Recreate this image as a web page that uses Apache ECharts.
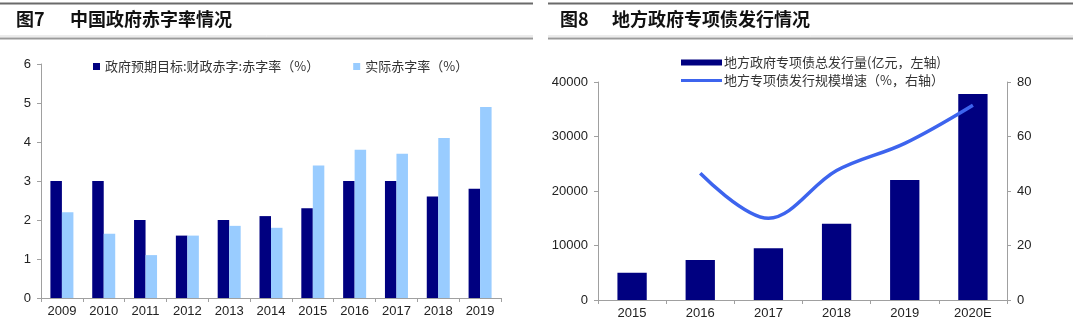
<!DOCTYPE html>
<html><head><meta charset="utf-8">
<script src="https://cdn.jsdelivr.net/npm/echarts@6/dist/echarts.min.js"></script>
<style>html,body{margin:0;padding:0;background:#fff}#c{width:1080px;height:324px}</style>
</head><body><div id="c"></div>
<script>
var years1 = ['2009','2010','2011','2012','2013','2014','2015','2016','2017','2018','2019'];
var targetDeficit = [3, 3, 2, 1.6, 2, 2.1, 2.3, 3, 3, 2.6, 2.8];
var actualDeficit = [2.2, 1.65, 1.1, 1.6, 1.85, 1.8, 3.4, 3.8, 3.7, 4.1, 4.9];
var years2 = ['2015','2016','2017','2018','2019','2020E'];
var bondIssue = [5000, 7350, 9500, 14000, 22000, 37800];
var bondGrowth = [null, 46.5, 30, 47.5, 57.5, 71.5];
var name1 = '政府预期目标:财政赤字:赤字率（%）';
var name2 = '实际赤字率（%）';
var name3 = '地方政府专项债总发行量(亿元，左轴)';
var name4 = '地方专项债发行规模增速（%，右轴）';

var chart = echarts.init(document.getElementById('c'));
var axisLine = {lineStyle:{color:'#a0a0a0', width:1}};
var lbl = {color:'#222', fontSize:13, fontFamily:'Liberation Sans, Arial', formatter:function(v){return String(v);}};
var cjk = '"Noto Sans CJK SC", sans-serif';
function hline(x1,x2,y,color,w){return {type:'line',shape:{x1:x1,y1:y,x2:x2,y2:y},style:{stroke:color,lineWidth:w},silent:true};}
chart.setOption({
  animation:false,
  graphic:[
    hline(0,533,3.5,'#6a6a6a',2), hline(548,1073,3.5,'#6a6a6a',2),
    hline(0,533,36,'#d8d8d8',1), hline(548,1073,36,'#d8d8d8',1),
    hline(0,533,38.5,'#9a9a9a',2), hline(548,1073,38.5,'#9a9a9a',2),
    {type:'text',left:16,top:10,style:{text:'图7',font:'bold 18px '+cjk,fill:'#111'}},
    {type:'text',left:70,top:10,style:{text:'中国政府赤字率情况',font:'bold 18px '+cjk,fill:'#111'}},
    {type:'text',left:560,top:10,style:{text:'图8',font:'bold 18px '+cjk,fill:'#111'}},
    {type:'text',left:612,top:10,style:{text:'地方政府专项债发行情况',font:'bold 18px '+cjk,fill:'#111'}}
  ],
  legend:[
    {data:[name1,name2], left:88, top:55, itemWidth:7, itemHeight:7, itemGap:34,
     icon:'rect', textStyle:{fontSize:13, color:'#333', fontFamily:cjk}},
    {data:[{name:name3, icon:'rect'},{name:name4, icon:'path://M0,0 L40,0 L40,3 L0,3 Z'}], orient:'vertical', left:676, top:51, itemWidth:41, itemHeight:6, itemGap:5,
     textStyle:{fontSize:13, color:'#333', fontFamily:cjk, padding:[0,0,0,-3]}}
  ],
  grid:[
    {left:41, right:579, top:64, bottom:26},
    {left:598, right:73, top:82, bottom:24}
  ],
  xAxis:[
    {type:'category', gridIndex:0, data:years1, axisLine:axisLine, axisTick:{show:true, lineStyle:{color:'#a0a0a0'}, length:4}, axisLabel:Object.assign({margin:7},lbl)},
    {type:'category', gridIndex:1, data:years2, axisLine:axisLine, axisTick:{show:true, lineStyle:{color:'#a0a0a0'}, length:4}, axisLabel:Object.assign({margin:7},lbl)}
  ],
  yAxis:[
    {type:'value', gridIndex:0, min:0, max:6, interval:1, axisLine:Object.assign({show:true},axisLine), axisTick:{show:true,length:4,lineStyle:{color:'#a0a0a0'}}, splitLine:{show:false}, axisLabel:Object.assign({margin:10},lbl)},
    {type:'value', gridIndex:1, min:0, max:40000, interval:10000, axisLine:Object.assign({show:true},axisLine), axisTick:{show:true,length:4,lineStyle:{color:'#a0a0a0'}}, splitLine:{show:false}, axisLabel:Object.assign({margin:10},lbl)},
    {type:'value', gridIndex:1, position:'right', min:0, max:80, interval:20, axisLine:Object.assign({show:true},axisLine), axisTick:{show:true,length:4,lineStyle:{color:'#a0a0a0'}}, splitLine:{show:false}, axisLabel:Object.assign({margin:10},lbl)}
  ],
  series:[
    {name:name1, type:'bar', xAxisIndex:0, yAxisIndex:0, data:targetDeficit, itemStyle:{color:'#000080'}, barGap:'0%', barCategoryGap:'45%'},
    {name:name2, type:'bar', xAxisIndex:0, yAxisIndex:0, data:actualDeficit, itemStyle:{color:'#99ccff'}},
    {name:name3, type:'bar', xAxisIndex:1, yAxisIndex:1, data:bondIssue, itemStyle:{color:'#000080'}, barCategoryGap:'57%'},
    {name:name4, type:'line', xAxisIndex:1, yAxisIndex:2, data:bondGrowth, smooth:0.35, symbol:'none', lineStyle:{color:'#3d64ee', width:3.5}, itemStyle:{color:'#3d64ee'}}
  ]
});
</script></body></html>
